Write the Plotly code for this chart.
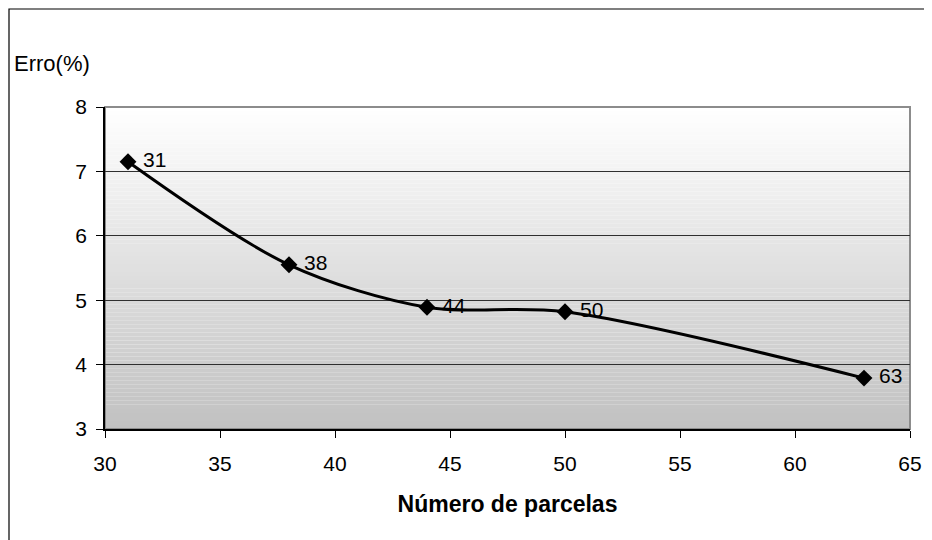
import plotly.graph_objects as go

# Data
parcelas = [31, 38, 44, 50, 63]
erro = [7.15, 5.55, 4.89, 4.82, 3.79]
labels = ["31", "38", "44", "50", "63"]

x_ticks = [30, 35, 40, 45, 50, 55, 60, 65]
y_ticks = [3, 4, 5, 6, 7, 8]

# page body has an 8px margin, so the figure is drawn 8px smaller and shifted
OFF = 8
W, H = 932 - OFF, 540 - OFF
L, R, T, B = 105 - OFF, 22, 107 - OFF, 111
pw, ph = W - L - R, H - T - B

FONT = "Liberation Sans, Arial, sans-serif"

fig = go.Figure()

fig.add_trace(go.Scatter(
    x=parcelas, y=erro, mode="lines+markers+text",
    line=dict(color="black", width=3, shape="spline", smoothing=0.9),
    marker=dict(symbol="diamond", size=13, color="black"),
    text=[" " + t for t in labels], textposition="middle right",
    textfont=dict(family=FONT, size=21, color="black"),
    cliponaxis=False, showlegend=False,
))

# gradient background bands (white top -> grey bottom)
shapes = []
n = 80
for i in range(n):
    f = i / (n - 1)
    c = int(round(255 - (255 - 193) * f))
    shapes.append(dict(type="rect", xref="paper", yref="paper",
                       x0=0, x1=1, y1=1 - i / n, y0=1 - (i + 1) / n,
                       fillcolor=f"rgb({c},{c},{c})", line=dict(width=0),
                       layer="below"))
# plot area border (top/right grey)
shapes.append(dict(type="rect", xref="paper", yref="paper", x0=0, x1=1, y0=0, y1=1,
                   line=dict(color="#8c8c8c", width=2), layer="below"))
# outer chart frame (top/left visible, right/bottom off-canvas)
shapes.append(dict(type="rect", xref="paper", yref="paper",
                   x0=(9 - 105) / pw, x1=1.2, y0=-0.6, y1=(429 - 9) / ph,
                   line=dict(color="black", width=1.2)))

fig.update_layout(
    width=W, height=H,
    margin=dict(l=L, r=R, t=T, b=B, autoexpand=False),
    paper_bgcolor="white", plot_bgcolor="rgba(0,0,0,0)",
    font=dict(family=FONT, size=21, color="black"),
    shapes=shapes,
    annotations=[dict(text="Erro(%)", xref="paper", yref="paper",
                      x=(12 - 105) / pw, y=(429 - 64) / ph,
                      xanchor="left", yanchor="middle", showarrow=False,
                      font=dict(family=FONT, size=22, color="black"))],
)

fig.update_xaxes(
    range=[30, 65], tickvals=x_ticks, ticktext=[str(v) for v in x_ticks],
    ticks="outside", ticklen=7, tickcolor="black", tickwidth=1,
    showline=True, linecolor="black", linewidth=1.5, automargin=False,
    showgrid=False, zeroline=False, ticklabelstandoff=8,
    tickfont=dict(family=FONT, size=21),
    title=dict(text="<b>Número de parcelas</b>", standoff=22,
               font=dict(family=FONT, size=23)),
)
fig.update_yaxes(
    range=[3, 8], tickvals=y_ticks, ticktext=[str(v) for v in y_ticks],
    ticks="outside", ticklen=7, tickcolor="black", tickwidth=1,
    showline=True, linecolor="black", linewidth=1.5, automargin=False,
    showgrid=True, gridcolor="#303030", gridwidth=1, zeroline=False,
    ticklabelstandoff=5,
    tickfont=dict(family=FONT, size=21),
)

fig.write_html("out.html")
